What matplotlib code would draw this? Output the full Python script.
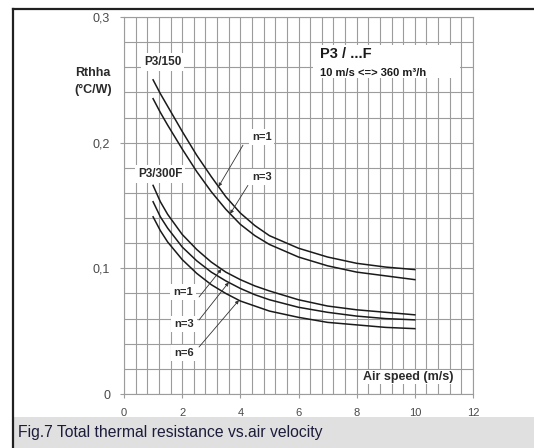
import numpy as np
import matplotlib
matplotlib.use("Agg")
import matplotlib.pyplot as plt
from matplotlib.lines import Line2D
from matplotlib.patches import Rectangle
from matplotlib.ticker import MultipleLocator

plt.rcParams["font.family"] = ["Liberation Sans", "DejaVu Sans"]

# Air speed (m/s) sample points
speed = [1, 1.25, 1.5, 2, 2.5, 3, 3.5, 4, 4.5, 5, 6, 7, 8, 9, 10]

# Rthha (°C/W) for the P3/150 heatsink
p150_n1 = [0.250, 0.239, 0.229, 0.209, 0.190, 0.173, 0.157, 0.144, 0.134, 0.126, 0.116, 0.109, 0.104, 0.101, 0.099]
p150_n3 = [0.235, 0.224, 0.214, 0.195, 0.177, 0.161, 0.147, 0.135, 0.126, 0.119, 0.109, 0.102, 0.097, 0.094, 0.091]

# Rthha (°C/W) for the P3/300F heatsink
p300_n1 = [0.166, 0.153, 0.143, 0.127, 0.115, 0.105, 0.097, 0.091, 0.086, 0.082, 0.075, 0.070, 0.067, 0.065, 0.063]
p300_n3 = [0.153, 0.141, 0.132, 0.117, 0.106, 0.097, 0.090, 0.084, 0.079, 0.075, 0.069, 0.065, 0.062, 0.060, 0.059]
p300_n6 = [0.141, 0.130, 0.121, 0.107, 0.096, 0.087, 0.080, 0.074, 0.070, 0.066, 0.061, 0.057, 0.055, 0.053, 0.052]

x_ticks = [0, 2, 4, 6, 8, 10, 12]
x_labels = ["0", "2", "4", "6", "8", "10", "12"]
y_ticks = [0, 0.1, 0.2, 0.3]
y_labels = ["0", "0,1", "0,2", "0,3"]

W, H = 534, 448
fig = plt.figure(figsize=(W / 100, H / 100), dpi=100)
fig.patch.set_facecolor("white")

# caption band and outer frame
fig.add_artist(Rectangle((14 / W, 0), 1 - 14 / W, 31 / H, transform=fig.transFigure,
                         facecolor="#e0e0e0", edgecolor="none", zorder=0))
fig.add_artist(Line2D([13 / W, 13 / W], [0, 1 - 9 / H], transform=fig.transFigure,
                      color="#202020", lw=1.6, zorder=10))
fig.add_artist(Line2D([13 / W, 1], [1 - 9 / H, 1 - 9 / H], transform=fig.transFigure,
                      color="#202020", lw=1.6, zorder=10))
fig.text(18 / W, 16 / H, "Fig.7 Total thermal resistance vs.air velocity",
         fontsize=11.3, color="#1c1c3c", va="center", ha="left")

ax = fig.add_axes([124 / W, 54 / H, 349 / W, 377 / H])
ax.set_xlim(0, 12)
ax.set_ylim(0, 0.3)

grid_col = "#9c9c9c"
ax.xaxis.set_minor_locator(MultipleLocator(0.4))
ax.yaxis.set_minor_locator(MultipleLocator(0.02))
ax.set_xticks(x_ticks)
ax.set_xticklabels(x_labels)
ax.set_yticks(y_ticks)
ax.set_yticklabels(y_labels)
ax.grid(which="both", color=grid_col, lw=0.8)
ax.set_axisbelow(True)
for s in ax.spines.values():
    s.set_color(grid_col)
    s.set_linewidth(0.8)
ax.tick_params(which="major", length=3, width=0.8, color=grid_col, labelcolor="#4a4a4a")
ax.tick_params(axis="x", which="major", pad=7, labelsize=8)
ax.tick_params(axis="y", which="major", pad=7, labelsize=9)
ax.tick_params(which="minor", length=0)

curve_kw = dict(color="#1a1a1a", lw=1.1, zorder=3)
for ys in (p150_n1, p150_n3, p300_n1, p300_n3, p300_n6):
    ax.plot(speed, ys, **curve_kw)

box = dict(facecolor="white", edgecolor="none", pad=2.0)
txt_kw = dict(fontsize=8, fontweight="bold", color="#2a2a2a", zorder=5)

ax.text(1.34, 0.264, "P3/150", ha="center", va="center", bbox=box,
        **{**txt_kw, "fontsize": 8.5})
ax.text(1.24, 0.175, "P3/300F", ha="center", va="center", bbox=box,
        **{**txt_kw, "fontsize": 8.5})

# header box with series identifier
ax.add_patch(Rectangle((6.5, 0.2515), 5.05, 0.0262, facecolor="white", edgecolor="none", zorder=4))
ax.text(6.74, 0.2705, "P3 / ...F", ha="left", va="center", fontsize=10.5,
        fontweight="bold", color="#1a1a1a", zorder=5)
ax.text(6.74, 0.2555, "10 m/s <=> 360 m³/h", ha="left", va="center", fontsize=8,
        fontweight="bold", color="#1a1a1a", zorder=5)

ax.text(9.78, 0.0135, "Air speed (m/s)", ha="center", va="center",
        bbox=dict(facecolor="white", edgecolor="none", pad=1.0),
        **{**txt_kw, "fontsize": 9})

arrow = dict(arrowstyle="-|>", mutation_scale=5, lw=0.6, color="#333333",
             shrinkA=0, shrinkB=0)

def leader(label, lx, ly, sx, sy, tip_x, series):
    ax.text(lx, ly, label, ha="center", va="center", bbox=box, **txt_kw)
    ty = float(np.interp(tip_x, speed, series))
    ax.annotate("", xy=(tip_x, ty), xytext=(sx, sy), arrowprops=arrow, zorder=4)

leader("n=1", 4.74, 0.2045, 4.09, 0.198, 3.25, p150_n1)
leader("n=3", 4.74, 0.1726, 4.26, 0.166, 3.65, p150_n3)
leader("n=1", 2.03, 0.0811, 2.58, 0.0772, 3.35, p300_n1)
leader("n=3", 2.06, 0.0557, 2.58, 0.0589, 3.60, p300_n3)
leader("n=6", 2.06, 0.0326, 2.58, 0.0374, 3.95, p300_n6)

fig.text(93 / W, 1 - 73 / H, "Rthha", ha="center", va="center", fontsize=9,
         fontweight="bold", color="#2a2a2a")
fig.text(93 / W, 1 - 90 / H, "(°C/W)", ha="center", va="center", fontsize=9,
         fontweight="bold", color="#2a2a2a")

fig.savefig("out.png", dpi=100, facecolor="white")
